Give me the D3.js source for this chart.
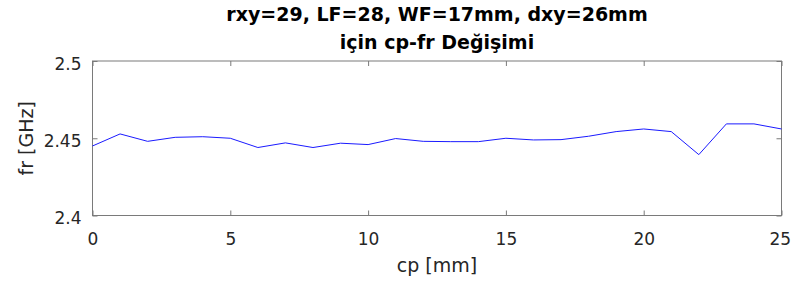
<!DOCTYPE html>
<html>
<head>
<meta charset="utf-8">
<script src="https://cdn.jsdelivr.net/npm/d3@7"></script>
<style>
  body { margin: 0; background: #fff; }
  text { font-family: "DejaVu Sans", sans-serif; }
</style>
</head>
<body>
<div id="chart"></div>
<script>
// data
var cp = [0, 1, 2, 3, 4, 5, 6, 7, 8, 9, 10, 11, 12, 13, 14, 15, 16, 17, 18, 19, 20, 21, 22, 23, 24, 25];
var fr = [2.4450, 2.4528, 2.4480, 2.4506, 2.4510, 2.4500, 2.4440, 2.4470, 2.4440, 2.4468,
          2.4459, 2.4498, 2.4480, 2.4478, 2.4478, 2.4500, 2.4489, 2.4491, 2.4513, 2.4543,
          2.4560, 2.4543, 2.4394, 2.4593, 2.4593, 2.4560];
var xTicks = [0, 5, 10, 15, 20, 25];
var yTicks = [2.4, 2.45, 2.5];
var titleLines = ["rxy=29, LF=28, WF=17mm, dxy=26mm", "için cp-fr Değişimi"];

// set the dimensions and margins of the graph
var margin = { top: 61, right: 9.5, bottom: 69.5, left: 92.5 },
  width = 791 - margin.left - margin.right,
  height = 285 - margin.top - margin.bottom;

var svg = d3.select("#chart").append("svg")
  .attr("width", 791)
  .attr("height", 285);

var g = svg.append("g")
  .attr("transform", `translate(${margin.left},${margin.top})`);

var x = d3.scaleLinear().domain([0, 25]).range([0, width]);
var y = d3.scaleLinear().domain([2.4, 2.5]).range([height, 0]);

var axisColor = "#7a7a7a", textColor = "#262626";

// box
g.append("rect")
  .attr("x", 0).attr("y", 0)
  .attr("width", width).attr("height", height)
  .attr("fill", "none")
  .attr("stroke", axisColor)
  .attr("stroke-width", 1);

// axes, ticks pointing inside
var xAxis = g.append("g")
  .attr("transform", `translate(0,${height})`)
  .call(d3.axisBottom(x).tickValues(xTicks).tickSize(-5).tickPadding(17.5).tickFormat(d3.format("d")));
var xTop = g.append("g")
  .call(d3.axisTop(x).tickValues(xTicks).tickSize(-5).tickFormat(""));
var yAxis = g.append("g")
  .call(d3.axisLeft(y).tickValues(yTicks).tickSize(-5).tickPadding(11).tickFormat(d => String(+d.toFixed(2))));
var yRight = g.append("g")
  .attr("transform", `translate(${width},0)`)
  .call(d3.axisRight(y).tickValues(yTicks).tickSize(-5).tickFormat(""));

[xAxis, xTop, yAxis, yRight].forEach(a => {
  a.select(".domain").remove();
  a.selectAll("line").attr("stroke", axisColor);
  a.selectAll("text")
    .attr("fill", textColor)
    .style("font-size", "17px");
});
yAxis.selectAll("text").attr("dy", "0.47em");
// keep the last x label inside the page
xAxis.selectAll("text").filter(d => d === 25).attr("dx", -1.8);

// the line
var line = d3.line()
  .x((d, i) => x(cp[i]))
  .y(d => y(d));
g.append("path")
  .datum(fr)
  .attr("fill", "none")
  .attr("stroke", "#1a1aff")
  .attr("stroke-width", 1)
  .attr("d", line);

// title
svg.append("g").selectAll("text")
  .data(titleLines)
  .join("text")
  .attr("x", margin.left + width / 2)
  .attr("y", (d, i) => 20.7 + i * 28.3)
  .attr("text-anchor", "middle")
  .attr("fill", "#000")
  .style("font-size", "19px")
  .style("font-weight", "bold")
  .text(d => d);

// axis labels
svg.append("text")
  .attr("x", margin.left + width / 2)
  .attr("y", 272)
  .attr("text-anchor", "middle")
  .attr("fill", textColor)
  .style("font-size", "19px")
  .text("cp [mm]");

svg.append("text")
  .attr("transform", `translate(33,${margin.top + height / 2}) rotate(-90)`)
  .attr("text-anchor", "middle")
  .attr("fill", textColor)
  .style("font-size", "19px")
  .text("fr [GHz]");
</script>
</body>
</html>
